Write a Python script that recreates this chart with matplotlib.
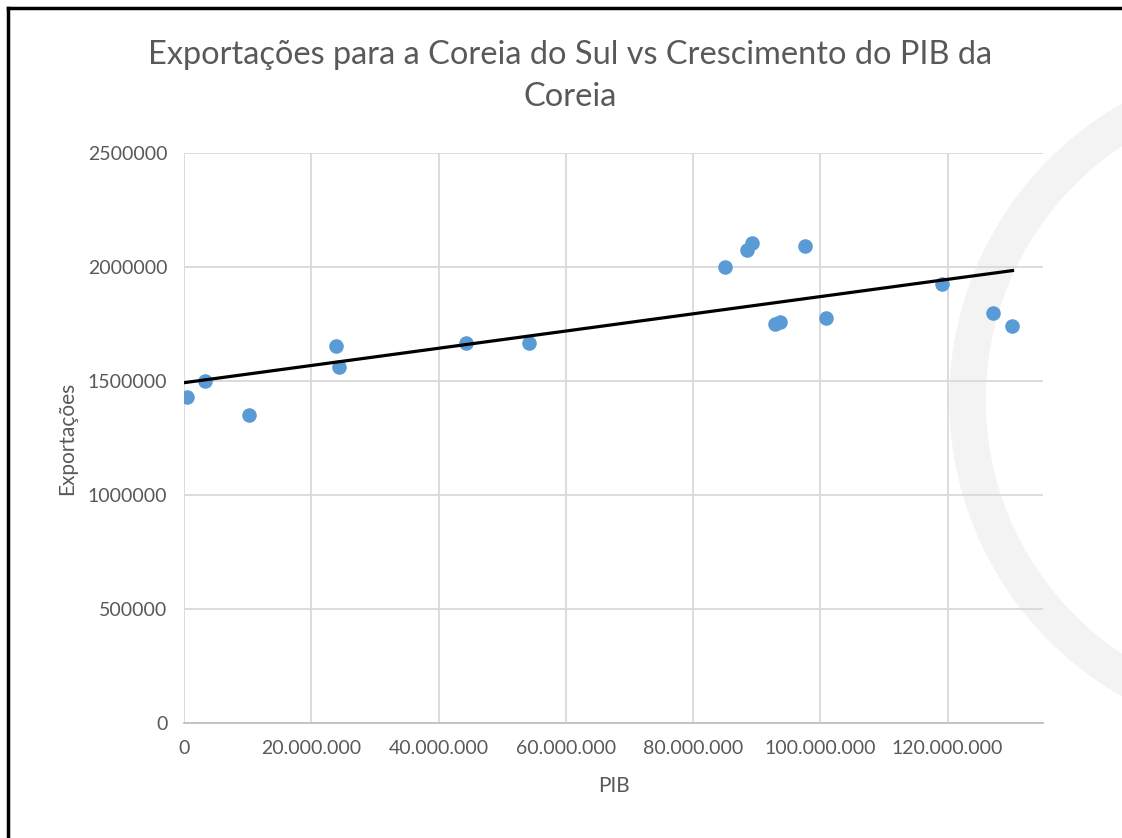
import matplotlib
matplotlib.use("Agg")
import matplotlib.pyplot as plt
import numpy as np
from matplotlib.patches import Wedge
from matplotlib.lines import Line2D

# data
pib = [0.5e6, 3.3e6, 10.2e6, 23.9e6, 24.4e6, 44.3e6, 54.2e6, 85.1e6, 88.5e6,
       89.3e6, 97.6e6, 92.9e6, 93.6e6, 100.9e6, 119.2e6, 127.2e6, 130.2e6]
exportacoes = [1430000, 1500000, 1351000, 1654000, 1561000, 1667000, 1667000,
               2000000, 2075000, 2105000, 2092000, 1750000, 1759000, 1776000,
               1925000, 1798000, 1741000]

x_ticks = [0, 20e6, 40e6, 60e6, 80e6, 100e6, 120e6]
y_ticks = [0, 500000, 1000000, 1500000, 2000000, 2500000]

txt = "#595959"
plt.rcParams['font.family'] = ['Lato', 'DejaVu Sans']

fig = plt.figure(figsize=(11.22, 8.38), dpi=100)

# faint watermark ring in the background
bg = fig.add_axes([0, 0, 1, 1], zorder=0)
bg.set_xlim(0, 1122)
bg.set_ylim(838, 0)
bg.axis("off")
bg.add_patch(Wedge((1290, 400), 340, 0, 360, width=35, color="#f3f3f3"))
bg.add_line(Line2D([8, 8], [8, 838], color="black", lw=2.5))
bg.add_line(Line2D([8, 1122], [8, 8], color="black", lw=2.5))

ax = fig.add_axes([0.164, 0.1372, 0.7656, 0.6802], zorder=1)
ax.patch.set_alpha(0)

ax.scatter(pib, exportacoes, s=110, color="#5B9BD5", zorder=3, linewidths=0)

# linear trendline
coef = np.polyfit(pib, exportacoes, 1)
xs = np.array([0, max(pib)])
ax.plot(xs, np.polyval(coef, xs), color="black", lw=2.3, zorder=4)

ax.set_xlim(0, 135e6)
ax.set_ylim(0, 2500000)
ax.set_xticks(x_ticks)
ax.set_yticks(y_ticks)
ax.set_xticklabels(["{:,.0f}".format(v).replace(",", ".") for v in x_ticks])
ax.set_yticklabels([str(v) for v in y_ticks])
ax.grid(True, color="#d9d9d9", lw=1.3)
ax.set_axisbelow(True)
for s in ["top", "right", "left"]:
    ax.spines[s].set_visible(False)
ax.spines["bottom"].set_color("#bfbfbf")
ax.spines["bottom"].set_linewidth(1.3)
ax.tick_params(length=0, labelsize=14, colors=txt, pad=12)
ax.tick_params(axis="y", pad=12)

ax.set_xlabel("PIB", fontsize=15, color=txt, labelpad=14)
ax.set_ylabel("Exportações", fontsize=15, color=txt, labelpad=8)
fig.text(0.508, 0.909, "Exportações para a Coreia do Sul vs Crescimento do PIB da\nCoreia",
         ha="center", va="center", fontsize=23.4, color=txt, linespacing=1.5)

fig.savefig("out.png", dpi=100)
